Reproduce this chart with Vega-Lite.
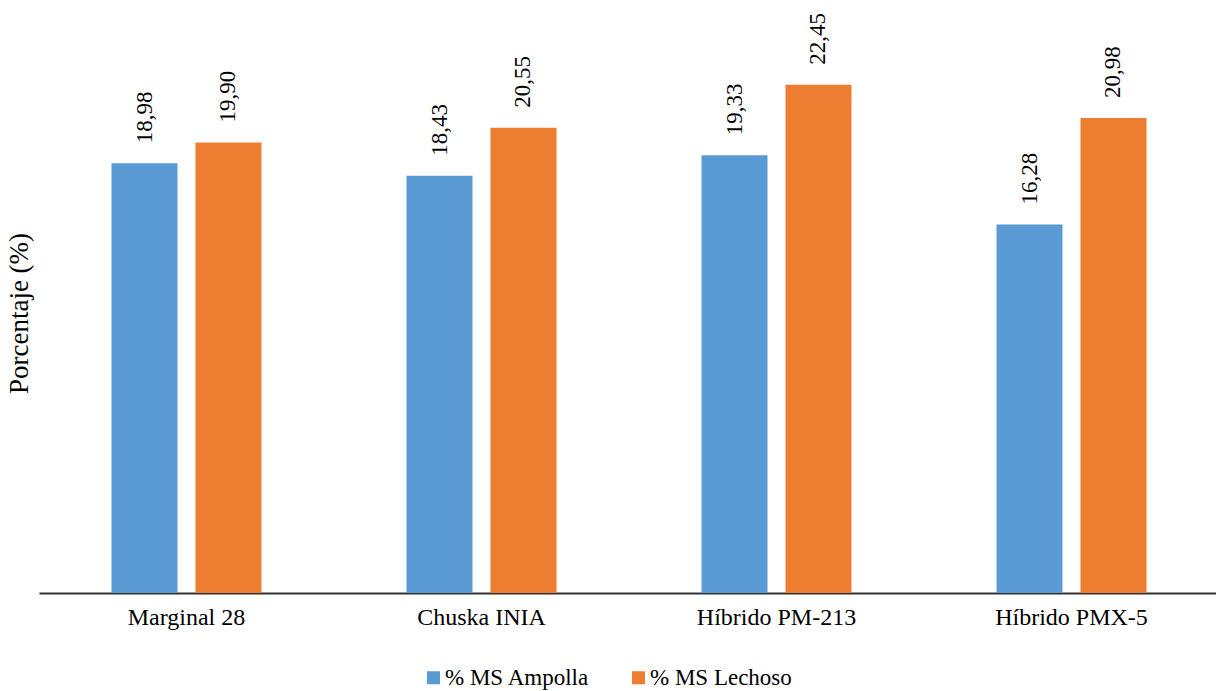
{
  "$schema": "https://vega.github.io/schema/vega-lite/v6.json",
  "width": 1180,
  "height": 566,
  "autosize": "none",
  "padding": {"left": 39, "top": 27, "right": 0, "bottom": 98},
  "config": {
    "view": {"stroke": null},
    "font": "Liberation Serif",
    "locale": {
      "number": {"decimal": ",", "thousands": ".", "grouping": [3], "currency": ["", " €"]}
    }
  },
  "data": {
    "values": [
      {"variedad": "Marginal 28", "serie": "% MS Ampolla", "valor": 18.98},
      {"variedad": "Marginal 28", "serie": "% MS Lechoso", "valor": 19.90},
      {"variedad": "Chuska INIA", "serie": "% MS Ampolla", "valor": 18.43},
      {"variedad": "Chuska INIA", "serie": "% MS Lechoso", "valor": 20.55},
      {"variedad": "Híbrido PM-213", "serie": "% MS Ampolla", "valor": 19.33},
      {"variedad": "Híbrido PM-213", "serie": "% MS Lechoso", "valor": 22.45},
      {"variedad": "Híbrido PMX-5", "serie": "% MS Ampolla", "valor": 16.28},
      {"variedad": "Híbrido PMX-5", "serie": "% MS Lechoso", "valor": 20.98}
    ]
  },
  "encoding": {
    "x": {
      "field": "variedad",
      "type": "nominal",
      "sort": ["Marginal 28", "Chuska INIA", "Híbrido PM-213", "Híbrido PMX-5"],
      "scale": {"paddingInner": 0, "paddingOuter": 0},
      "axis": {
        "title": null,
        "labelAngle": 0,
        "labelFont": "Liberation Serif",
        "labelFontSize": 24,
        "labelColor": "#000000",
        "labelBaseline": "alphabetic",
        "labelPadding": 31,
        "ticks": false,
        "tickSize": 0,
        "domainColor": "#333333",
        "domainWidth": 2,
        "grid": false
      }
    },
    "xOffset": {
      "field": "serie",
      "type": "nominal",
      "sort": ["% MS Ampolla", "% MS Lechoso"],
      "scale": {"paddingInner": 0.214, "paddingOuter": 0.863}
    },
    "y": {
      "field": "valor",
      "type": "quantitative",
      "scale": {"domain": [0, 25], "nice": false},
      "axis": {
        "title": "Porcentaje (%)",
        "titleFont": "Liberation Serif",
        "titleFontSize": 27,
        "titleFontWeight": "normal",
        "titleColor": "#000000",
        "titleAngle": -90,
        "titleAlign": "center",
        "titleBaseline": "middle",
        "titleX": -20,
        "titleY": 286,
        "labels": false,
        "ticks": false,
        "domain": false,
        "grid": false
      }
    }
  },
  "layer": [
    {
      "mark": {"type": "bar"},
      "encoding": {
        "color": {
          "field": "serie",
          "type": "nominal",
          "sort": ["% MS Ampolla", "% MS Lechoso"],
          "scale": {"domain": ["% MS Ampolla", "% MS Lechoso"], "range": ["#5B9BD5", "#ED7D31"]},
          "legend": {
            "title": null,
            "orient": "none",
            "direction": "horizontal",
            "legendX": 383,
            "legendY": 639,
            "symbolType": "square",
            "symbolSize": 169,
            "symbolStrokeWidth": 0,
            "labelFont": "Liberation Serif",
            "labelFontSize": 23,
            "labelColor": "#000000",
            "labelOffset": 0,
            "columnPadding": 37
          }
        }
      }
    },
    {
      "mark": {"type": "text", "angle": 270, "align": "left", "baseline": "middle", "dx": 20, "fontSize": 23, "color": "#000000", "font": "Liberation Serif"},
      "encoding": {
        "text": {"field": "valor", "type": "quantitative", "format": ".2f"}
      }
    }
  ]
}
